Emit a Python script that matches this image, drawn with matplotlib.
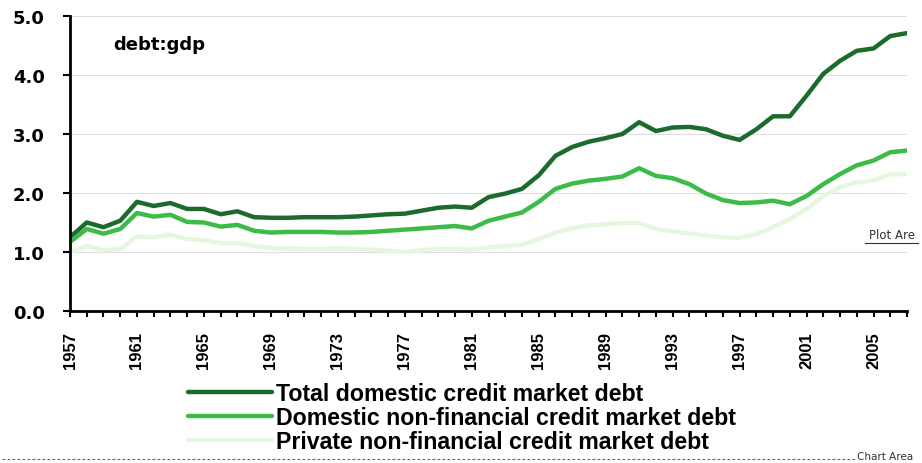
import numpy as np
import matplotlib
matplotlib.use('Agg')
from matplotlib import pyplot as plt
from matplotlib.lines import Line2D

years = list(range(1957, 2008))

total_debt = [1.25, 1.50, 1.42, 1.53, 1.85, 1.78, 1.83, 1.73, 1.73, 1.64,
              1.69, 1.59, 1.58, 1.58, 1.59, 1.59, 1.59, 1.60, 1.62, 1.64,
              1.65, 1.70, 1.75, 1.77, 1.75, 1.93, 1.99, 2.07, 2.30, 2.63,
              2.78, 2.87, 2.93, 3.00, 3.20, 3.05, 3.11, 3.12, 3.08, 2.97,
              2.90, 3.08, 3.30, 3.30, 3.65, 4.02, 4.24, 4.41, 4.45, 4.66,
              4.71]
nonfin_debt = [1.17, 1.39, 1.31, 1.39, 1.66, 1.60, 1.63, 1.51, 1.50, 1.43,
               1.46, 1.36, 1.33, 1.34, 1.34, 1.34, 1.33, 1.33, 1.34, 1.36,
               1.38, 1.40, 1.42, 1.44, 1.40, 1.53, 1.60, 1.67, 1.85, 2.07,
               2.16, 2.21, 2.24, 2.28, 2.42, 2.29, 2.25, 2.15, 1.99, 1.88,
               1.83, 1.84, 1.87, 1.81, 1.95, 2.15, 2.32, 2.47, 2.55, 2.69,
               2.72]
private_debt = [1.00, 1.10, 1.03, 1.05, 1.26, 1.25, 1.29, 1.22, 1.20, 1.15,
                1.15, 1.10, 1.07, 1.06, 1.05, 1.05, 1.06, 1.05, 1.04, 1.02,
                1.00, 1.03, 1.05, 1.05, 1.04, 1.08, 1.10, 1.12, 1.22, 1.33,
                1.40, 1.45, 1.47, 1.49, 1.49, 1.39, 1.35, 1.31, 1.28, 1.25,
                1.24, 1.30, 1.42, 1.56, 1.73, 1.95, 2.10, 2.18, 2.21, 2.32,
                2.32]

labels = ['Total domestic credit market debt',
          'Domestic non-financial credit market debt',
          'Private non-financial credit market debt']
colors = ['#1d6b2c', '#3dbb48', '#e6f7e0']
tick_years = list(range(1957, 2006, 4))
y_ticks = [0.0, 1.0, 2.0, 3.0, 4.0, 5.0]

W, H = 922, 464
fig = plt.figure(figsize=(W / 100, H / 100), dpi=100)
ax = fig.add_axes([70 / W, 1 - 312 / H, (907 - 70) / W, (312 - 17) / H])

for vals, c, lab in zip([total_debt, nonfin_debt, private_debt], colors, labels):
  ax.plot(years, vals, color=c, lw=3.2, label=lab, solid_capstyle='round')

ax.set_xlim(1957, 2007)
ax.set_ylim(0, 5)
ax.set_yticks(y_ticks)
ax.set_yticklabels(['%.1f' % v for v in y_ticks], fontsize=13, fontweight='bold',
                   family='DejaVu Sans')
ax.set_xticks(years, minor=True)
ax.set_xticks(tick_years)
ax.set_xticklabels([str(y) for y in tick_years], rotation=90, fontsize=12,
                   fontweight='bold', family=['Liberation Sans', 'DejaVu Sans'])
ax.tick_params(axis='x', which='both', length=4.5, width=1.5, direction='out', pad=10)
ax.tick_params(axis='y', length=5, width=1.5, pad=13)
ax.grid(axis='y', color='#dedede', lw=0.8)
ax.set_axisbelow(True)
for s in ['top', 'right']:
  ax.spines[s].set_visible(False)
for s in ['left', 'bottom']:
  ax.spines[s].set_linewidth(2)

ax.text(113 / W, 1 - 45 / H, 'debt:gdp', transform=fig.transFigure, fontsize=13,
        fontweight='bold', va='center', family='DejaVu Sans')

fig.legend(loc='upper left', bbox_to_anchor=(188 / W, 1 - 383 / H), frameon=False,
           borderpad=0, borderaxespad=0, handlelength=3.6, handletextpad=0.2,
           labelspacing=0.05,
           prop={'family': ['Liberation Sans', 'DejaVu Sans'], 'size': 16.7, 'weight': 'bold'})

# excel selection artefacts
fig.add_artist(Line2D([2 / W, 855 / W], [1 - 460 / H, 1 - 460 / H], color='#666666',
                      lw=0.8, ls=(0, (2.5, 2))))
fig.text(857 / W, 1 - 457 / H, 'Chart Area', fontsize=7.5, color='#333333', va='center')
fig.text(869 / W, 1 - 236 / H, 'Plot Are', fontsize=8.5, color='#333333', va='center')
fig.add_artist(Line2D([865 / W, 918 / W], [1 - 244 / H, 1 - 244 / H], color='#333333', lw=0.8))

plt.savefig('out.png', dpi=100)
